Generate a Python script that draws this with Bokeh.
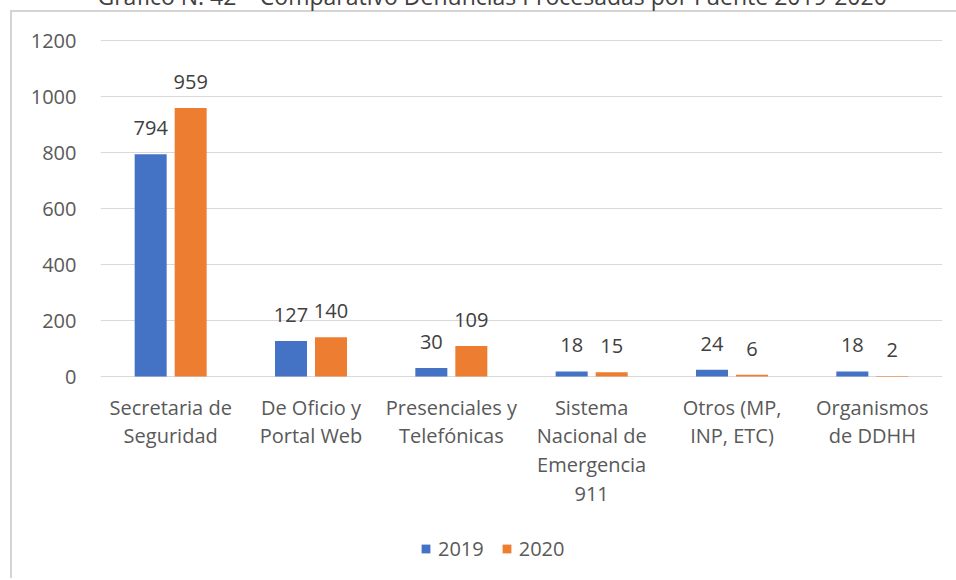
from bokeh.plotting import figure
from bokeh.models import (FactorRange, Range1d, FixedTicker, ColumnDataSource, Legend, LegendItem)
from bokeh.transform import dodge
from bokeh.core.properties import value
from bokeh.embed import file_html
from bokeh.resources import INLINE

# ---- data ----
categories = ["Secretaria de\nSeguridad", "De Oficio y\nPortal Web", "Presenciales y\nTelefónicas",
              "Sistema\nNacional de\nEmergencia\n911", "Otros (MP,\nINP, ETC)", "Organismos\nde DDHH"]
values_2019 = [794, 127, 30, 18, 24, 18]
values_2020 = [959, 140, 109, 15, 6, 2]
series_names = ["2019", "2020"]
y_ticks = [0, 200, 400, 600, 800, 1000, 1200]
title_text = "Gráfico N. 42 – Comparativo Denuncias Procesadas por Fuente 2019-2020"

FONT = "Open Sans"
BLUE = "#4472C4"
ORANGE = "#ED7D31"
TICK = "#595959"
LBL = "#404040"
GRID = "#D9D9D9"
BOX = "#D4D4D4"

src = ColumnDataSource(dict(
    cat=categories, v19=values_2019, v20=values_2020,
    t19=[str(v) for v in values_2019], t20=[str(v) for v in values_2020],
))

# layout: frame spans down to the bottom so category labels & legend sit inside it;
# the figure is shifted upwards so that only the lower edge of the title shows
SHIFT = 56
PX_PER_UNIT = 0.28
TOP = 95
FIG_W = 946
FIG_H = 578 + SHIFT
frame_h = FIG_H - TOP
below_zero_px = 202
y0 = -below_zero_px / PX_PER_UNIT
y1 = frame_h / PX_PER_UNIT + y0

line_y = 10 + SHIFT
bg = (f"linear-gradient({BOX},{BOX}) 0px {line_y}px / {FIG_W}px 2px no-repeat, "
      f"linear-gradient({BOX},{BOX}) 0px {line_y}px / 2px {FIG_H}px no-repeat")

p = figure(x_range=FactorRange(*categories), y_range=Range1d(y0, y1),
           width=FIG_W, height=FIG_H, output_backend="svg", toolbar_location=None,
           min_border_left=90, min_border_right=14, min_border_top=TOP, min_border_bottom=0,
           styles={"margin-top": f"-{SHIFT}px", "margin-left": "10px",
                   "width": f"{FIG_W}px", "height": f"{FIG_H}px", "background": bg})
p.x_range.range_padding = 0
p.outline_line_color = None
p.background_fill_color = "white"
p.border_fill_alpha = 0

OFF = 0.1425
W = 0.228
r19 = p.vbar(x=dodge("cat", -OFF, range=p.x_range), top="v19", width=W, source=src,
             fill_color=BLUE, line_color=None)
r20 = p.vbar(x=dodge("cat", OFF, range=p.x_range), top="v20", width=W, source=src,
             fill_color=ORANGE, line_color=None)

for col, tcol, off in (("v19", "t19", -OFF), ("v20", "t20", OFF)):
    p.text(x=dodge("cat", off, range=p.x_range), y=col, text=tcol, source=src,
           text_font=value(FONT), text_font_size="20px", text_color=LBL,
           text_align="center", text_baseline="bottom", y_offset=-19)

# category labels under the zero line
p.text(x="cat", y=0, text="cat", source=src, text_font=value(FONT), text_font_size="20px",
       text_color=TICK, text_align="center", text_baseline="top", y_offset=17,
       text_line_height=1.065)

# axes
p.xaxis.visible = False
p.yaxis.ticker = FixedTicker(ticks=y_ticks)
p.yaxis.axis_line_color = None
p.yaxis.major_tick_line_color = None
p.yaxis.minor_tick_line_color = None
p.yaxis.major_tick_out = 0
p.yaxis.major_tick_in = 0
p.yaxis.major_label_text_font = FONT
p.yaxis.major_label_text_font_size = "20px"
p.yaxis.major_label_text_color = TICK
p.yaxis.major_label_standoff = 24

p.xgrid.grid_line_color = None
p.ygrid.grid_line_color = GRID
p.ygrid.grid_line_width = 1

p.title.text = title_text
p.title.align = "left"
p.title.offset = -3
p.title.standoff = 55
p.title.vertical_align = "bottom"
p.title.text_font = FONT
p.title.text_font_size = "23px"
p.title.text_font_style = "normal"
p.title.text_color = "#404040"

legend = Legend(items=[LegendItem(label=series_names[0], renderers=[r19]),
                       LegendItem(label=series_names[1], renderers=[r20])],
                orientation="horizontal", location=(320, 16),
                glyph_width=11, glyph_height=11, label_standoff=7, spacing=17,
                padding=0, margin=0, border_line_color=None, background_fill_alpha=0,
                label_text_font=FONT, label_text_font_size="20px", label_text_color=TICK,
                label_height=20)
p.add_layout(legend, "center")

open("out.html", "w").write(file_html(p, INLINE))
